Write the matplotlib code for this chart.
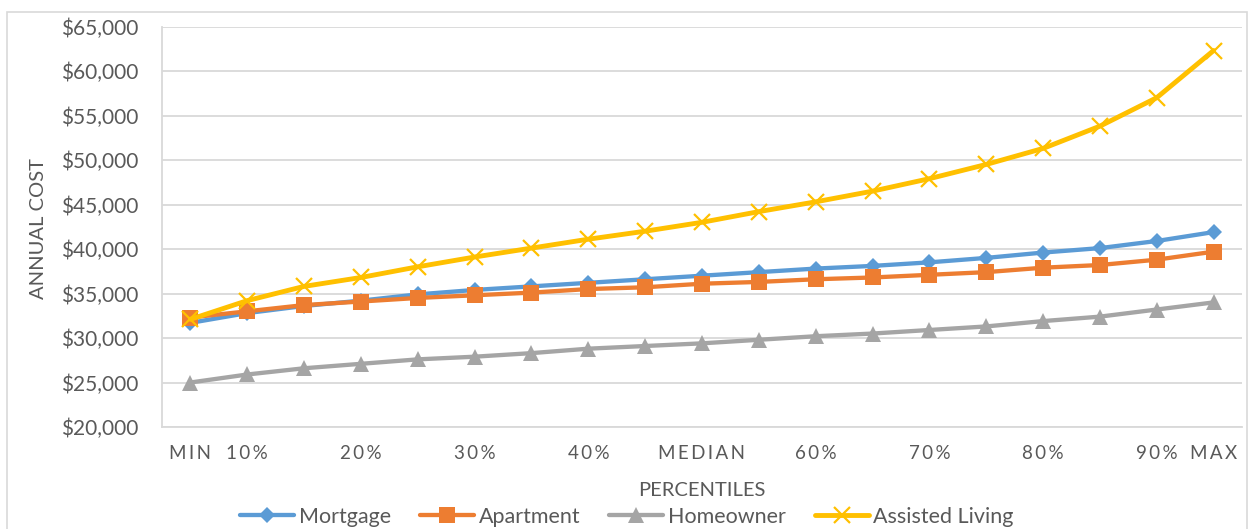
import matplotlib
matplotlib.use("Agg")
import matplotlib.pyplot as plt
import matplotlib.ticker as ticker
from matplotlib.patches import Rectangle

# percentile buckets (MIN, 10%..90% in 5% steps, MAX)
categories = ['MIN', '10%', '15%', '20%', '25%', '30%', '35%', '40%', '45%', 'MEDIAN',
              '55%', '60%', '65%', '70%', '75%', '80%', '85%', '90%', 'MAX']
tick_labels = ['MIN', '10%', '', '20%', '', '30%', '', '40%', '', 'MEDIAN',
               '', '60%', '', '70%', '', '80%', '', '90%', 'MAX']

mortgage = [31700, 32800, 33600, 34200, 34900, 35400, 35800, 36200, 36600, 37000,
            37400, 37800, 38100, 38500, 39000, 39600, 40100, 40900, 41900]
apartment = [32300, 33000, 33700, 34100, 34500, 34800, 35100, 35500, 35700, 36100,
             36300, 36600, 36800, 37100, 37400, 37900, 38200, 38800, 39700]
homeowner = [25000, 25900, 26600, 27100, 27600, 27900, 28300, 28800, 29100, 29400,
             29800, 30200, 30500, 30900, 31300, 31900, 32400, 33200, 34000]
assisted = [32100, 34200, 35800, 36800, 38000, 39100, 40100, 41100, 42000, 43000,
            44200, 45300, 46500, 47900, 49500, 51300, 53800, 57000, 62300]

plt.rcParams['font.family'] = ['Lato', 'DejaVu Sans']
txt = '#595959'
grid = '#d9d9d9'

fig = plt.figure(figsize=(12.5, 5.29), dpi=100)
W, H = 1250, 529
ax = fig.add_axes([162 / W, 1 - 427 / H, (1242 - 162) / W, (427 - 26.5) / H])

# chart area border
fig.patches.append(Rectangle((7 / W, -0.05), (1247 - 7) / W, 1 - 12 / H + 0.05,
                             transform=fig.transFigure, fill=False,
                             edgecolor=grid, linewidth=1.2))

x = list(range(len(categories)))
series = [
    ('Mortgage', mortgage, '#5B9BD5', 'D', 8.5, 3.1),
    ('Apartment', apartment, '#ED7D31', 's', 11.5, 3.1),
    ('Homeowner', homeowner, '#A5A5A5', '^', 11.5, 3.1),
    ('Assisted Living', assisted, '#FFC000', 'x', 12, 3.5),
]
for name, vals, col, mk, ms, lw in series:
    if mk == 'x':
        ax.plot(x, vals, color=col, lw=lw, marker=mk, ms=ms, mew=1.6,
                label=name, solid_capstyle='round')
    else:
        ax.plot(x, vals, color=col, lw=lw, marker=mk, ms=ms, mew=0,
                label=name, solid_capstyle='round')

ax.set_xlim(-0.5, len(categories) - 0.5)
ax.set_ylim(20000, 65000)
ax.yaxis.set_major_locator(ticker.MultipleLocator(5000))
ax.yaxis.set_major_formatter(ticker.FuncFormatter(lambda v, p: '${:,.0f}'.format(v)))
ax.grid(axis='y', color=grid, lw=1.3)
ax.set_axisbelow(True)

ax.set_xticks(x)
ax.set_xticklabels(['\u2009'.join(t) for t in tick_labels])
ax.tick_params(axis='both', length=0, colors=txt)
ax.tick_params(axis='x', pad=13, labelsize=13.5)
ax.tick_params(axis='y', pad=17, labelsize=15)

for s in ['top', 'right']:
    ax.spines[s].set_visible(False)
for s in ['left', 'bottom']:
    ax.spines[s].set_color(grid)
    ax.spines[s].set_linewidth(1.3)

fig.text(702 / W, 1 - 491 / H, 'PERCENTILES', ha='center', va='center',
         color=txt, fontsize=14.5)
fig.text(38 / W, 1 - 229 / H, 'ANNUAL COST', ha='center', va='center',
         rotation=90, color=txt, fontsize=14.5)

leg = fig.legend(loc='center', bbox_to_anchor=(627 / W, 1 - 517 / H), ncol=4,
                 frameon=False, fontsize=15.5, handlelength=2.5,
                 columnspacing=1.35, handletextpad=0.22, labelcolor=txt,
                 borderpad=0, borderaxespad=0)

fig.savefig('out.png', dpi=100)
